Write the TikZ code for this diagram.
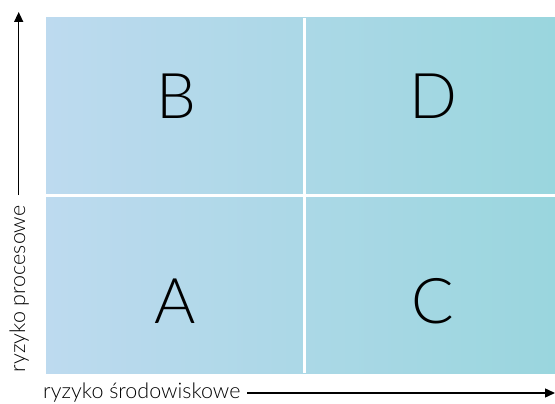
\documentclass[tikz,border=0pt]{standalone}
\usepackage{fontspec}
\setmainfont{Lato}[UprightFont=* Light]
\usetikzlibrary{arrows.meta}
\definecolor{gleft}{RGB}{189,218,239}
\definecolor{gright}{RGB}{154,214,222}
\tikzset{
  cellletter/.style={anchor=base, font=\fontsize{63}{63}\selectfont, inner sep=0pt},
  axislabel/.style={font=\fontsize{21.5}{21.5}\selectfont, inner sep=0pt},
  axisarrow/.style={-{Triangle[length=10pt,width=9pt]}, line width=1.4pt},
  divider/.style={white, line width=3pt},
}
\begin{document}
\begin{tikzpicture}[x=1pt,y=-1pt]
\useasboundingbox (0,0) rectangle (555,404);
\shade[left color=gleft, right color=gright] (46,18) rectangle (555,373);
\draw[divider] (304.5,18) -- (304.5,373);
\draw[divider] (46,195.5) -- (555,195.5);
\node[cellletter] (B) at (176,119) {B};
\node[cellletter] (D) at (433,119) {D};
\node[cellletter] (A) at (175.5,323) {A};
\node[cellletter] (C) at (433,323) {C};
\node[axislabel, rotate=90, anchor=base] (yl) at (25,289) {ryzyko procesowe};
\node[axislabel, anchor=base west] (xl) at (43,398) {ryzyko środowiskowe};
\coordinate (ys) at (18.7,195);
\coordinate (ye) at (18.7,12);
\coordinate (xs) at (247,393);
\coordinate (xe) at (555,393);
\draw[axisarrow] (ys) -- (ye);
\draw[axisarrow] (xs) -- (xe);
\end{tikzpicture}
\end{document}
